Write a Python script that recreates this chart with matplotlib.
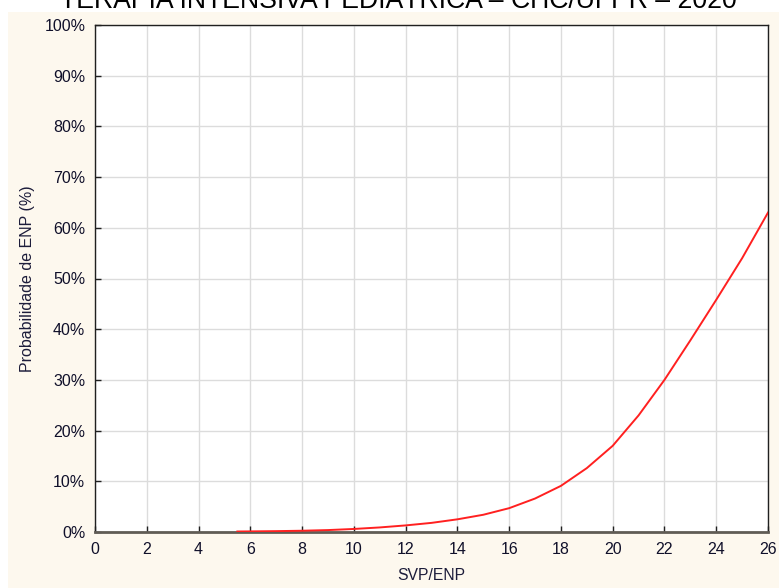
import matplotlib
matplotlib.use("Agg")
import matplotlib.pyplot as plt
from matplotlib.patches import Rectangle
from matplotlib.ticker import FuncFormatter, MultipleLocator

plt.rcParams['font.family'] = ['Liberation Sans', 'DejaVu Sans']

# Predicted probability of ENP along the SVP/ENP score
svp_enp = [5.5, 6, 7, 8, 9, 10, 11, 12, 13, 14, 15, 16, 17, 18, 19, 20,
           21, 22, 23, 24, 25, 26]
prob_enp = [0.10, 0.12, 0.17, 0.25, 0.38, 0.6, 0.9, 1.3, 1.8, 2.5, 3.4, 4.7,
            6.6, 9.1, 12.6, 17.0, 23.0, 30.0, 37.8, 45.8, 54.0, 63.0]

title = "TERAPIA INTENSIVA PEDIÁTRICA – CHC/UFPR – 2020"
x_label = "SVP/ENP"
y_label = "Probabilidade de ENP (%)"

W, H = 779, 588
fig = plt.figure(figsize=(W / 100, H / 100), dpi=100)
fig.patch.set_facecolor("white")

# cream panel behind the plot
fig.add_artist(Rectangle((8 / W, 0), 1 - 8 / W, (H - 12) / H,
                         transform=fig.transFigure, facecolor="#FDF8EE",
                         edgecolor="none", zorder=0))

ax = fig.add_axes([95 / W, (H - 532) / H, (768 - 95) / W, (532 - 25) / H])
ax.set_facecolor("white")

ax.plot(svp_enp, prob_enp, color="#FF2020", lw=1.4, zorder=3)

ax.set_xlim(0, 26)
ax.set_ylim(0, 100)
ax.xaxis.set_major_locator(MultipleLocator(2))
ax.yaxis.set_major_locator(MultipleLocator(10))
ax.yaxis.set_major_formatter(FuncFormatter(lambda v, p: f"{int(round(v))}%"))

ax.grid(True, color="#DCDCDC", lw=1.0, zorder=0)
ax.set_axisbelow(True)

tick_color = "#10102A"
ax.tick_params(axis="both", direction="in", length=4, width=1, color="#202020",
               labelsize=11.5, labelcolor=tick_color)
ax.tick_params(axis="x", pad=7)
ax.tick_params(axis="y", pad=7)

for side in ("left", "top", "right"):
    ax.spines[side].set_color("#202020")
    ax.spines[side].set_linewidth(1.0)
ax.spines["bottom"].set_color("#605C55")
ax.spines["bottom"].set_linewidth(2.0)

ax.set_xlabel(x_label, fontsize=11.3, color="#1C1C3A", labelpad=8)
ax.set_ylabel(y_label, fontsize=11.5, color="#1C1C3A", labelpad=7)

fig.text(398 / W, 1 - 8 / H, title, ha="center", va="baseline",
         fontsize=19.2, color="black")

fig.savefig("out.png", dpi=100, facecolor=fig.get_facecolor())
